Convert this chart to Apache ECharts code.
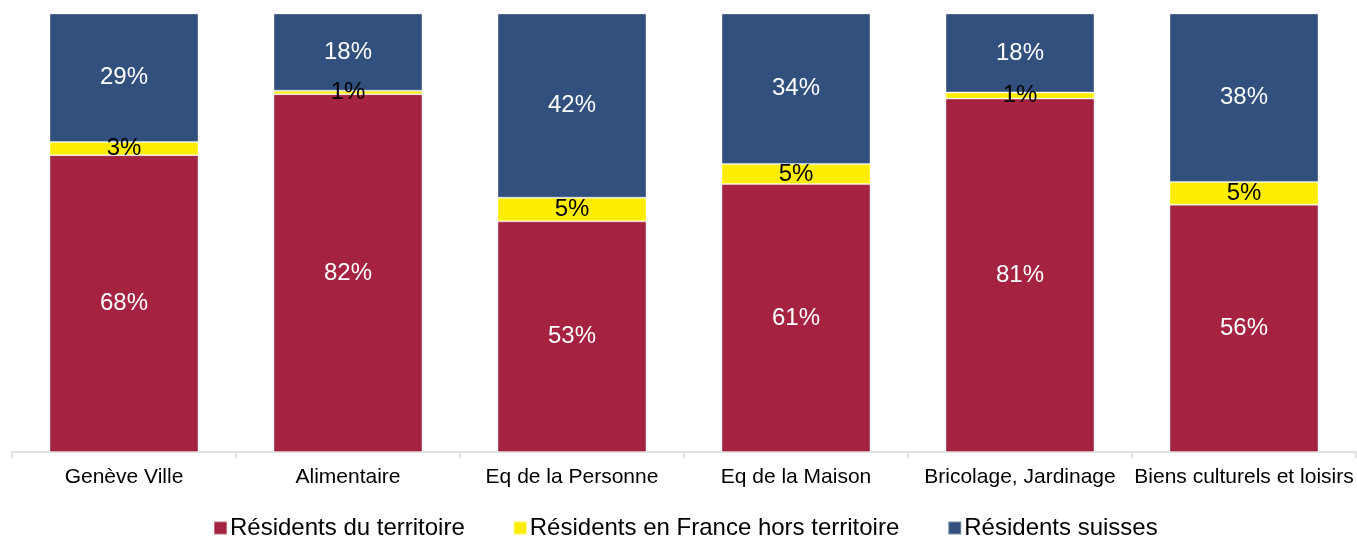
<!DOCTYPE html>
<html>
<head>
<meta charset="utf-8">
<script src="https://cdn.jsdelivr.net/npm/echarts@6/dist/echarts.min.js"></script>
<style>
  html, body { margin: 0; padding: 0; background: #fff; }
  #chart { width: 1357px; height: 538px; }
</style>
</head>
<body>
<div id="chart"></div>
<script>
var categories = ['Genève Ville', 'Alimentaire', 'Eq de la Personne', 'Eq de la Maison', 'Bricolage, Jardinage', 'Biens culturels et loisirs'];
var residentsTerritoire = [67.7, 81.6, 52.6, 61.1, 80.6, 56.4];
var residentsFrance = [3.0, 0.8, 5.4, 4.6, 1.4, 5.2];
var residentsSuisses = [29.3, 17.6, 42.0, 34.3, 18.0, 38.4];

var pct = function (p) { return Math.round(p.value) + '%'; };

function serie(name, data, color, textColor) {
    return {
        name: name,
        type: 'bar',
        stack: 'total',
        barWidth: '66.5%',
        data: data,
        itemStyle: { color: color, borderColor: 'rgba(255,255,255,0.35)', borderWidth: 1 },
        label: {
            show: true,
            position: 'inside',
            formatter: pct,
            color: textColor,
            fontFamily: 'Liberation Sans, Arial, sans-serif',
            fontSize: 24
        }
    };
}

var option = {
    backgroundColor: '#fff',
    animation: false,
    grid: { left: 12, right: 1, top: 13.5, bottom: 86 },
    legend: {
        top: 516,
        left: 213,
        padding: 0,
        itemWidth: 13,
        itemHeight: 13,
        itemGap: 48,
        icon: 'rect',
        textStyle: { color: '#000', fontSize: 24, fontFamily: 'Liberation Sans, Arial, sans-serif', padding: [0, 0, 0, -2] },
        data: ['Résidents du territoire', 'Résidents en France hors territoire', 'Résidents suisses']
    },
    xAxis: {
        type: 'category',
        data: categories,
        axisLine: { lineStyle: { color: '#d9d9d9', width: 1.5 } },
        axisTick: { show: true, length: 6, lineStyle: { color: '#d9d9d9', width: 1.5 } },
        axisLabel: {
            color: '#000',
            fontSize: 21,
            margin: 15,
            interval: 0,
            fontFamily: 'Liberation Sans, Arial, sans-serif'
        }
    },
    yAxis: {
        type: 'value',
        min: 0,
        max: 100,
        show: false,
        splitLine: { show: false }
    },
    series: [
        serie('Résidents du territoire', residentsTerritoire, '#a52241', '#fff'),
        serie('Résidents en France hors territoire', residentsFrance, '#ffed00', '#000'),
        serie('Résidents suisses', residentsSuisses, '#31507e', '#fff')
    ]
};

var myChart = echarts.init(document.getElementById('chart'));
myChart.setOption(option);
</script>
</body>
</html>
